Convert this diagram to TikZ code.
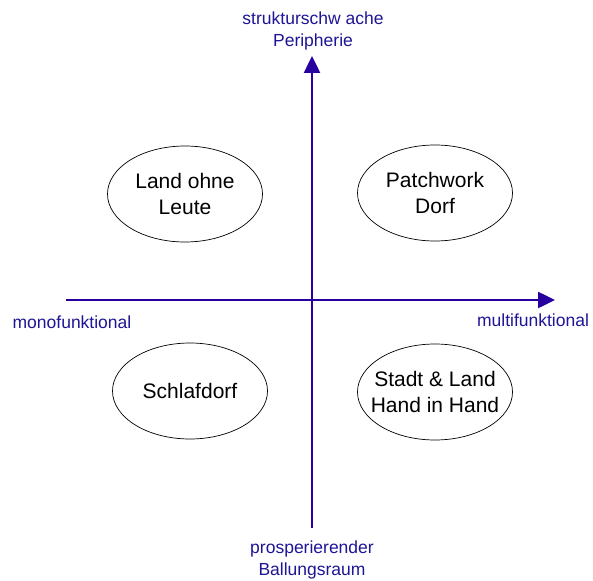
\documentclass[tikz,border=0pt]{standalone}
\usepackage{fontspec}
\setmainfont{Liberation Sans}
\usetikzlibrary{arrows.meta,shapes.geometric}
\definecolor{axisblue}{RGB}{40,0,160}
\definecolor{labelblue}{RGB}{30,20,150}

\begin{document}
\begin{tikzpicture}[
			x=1pt, y=-1pt
			,axis/.style={draw=axisblue, line width=2.5pt, -{Triangle[length=17pt,width=16pt]}}
			,field/.style={ellipse, draw, line width=0.7pt, minimum width=155pt, minimum height=96pt, inner xsep=-14pt, inner ysep=0pt, align=center, font=\fontsize{21pt}{26pt}\selectfont}
			,pole/.style={text=labelblue, align=center, inner sep=0pt, font=\fontsize{17.5pt}{22pt}\selectfont}
		]
			\useasboundingbox (0,0) rectangle (593,580);
			% axes
			\coordinate (xl) at (66,300);
			\coordinate (xr) at (555,300);
			\coordinate (yb) at (312,528);
			\coordinate (yt) at (312,56);
			\draw [axis] (xl) -- (xr);
			\draw [axis] (yb) -- (yt);
			% poles
			\node [pole] (top) at (313,31) {strukturschw ache\\Peripherie};
			\node [pole] (left) at (72,322) {monofunktional};
			\node [pole] (right) at (533,320) {multifunktional};
			\node [pole] (bottom) at (312,560) {prosperierender\\Ballungsraum};
			% quadrants
			\node [field] (LoL) at (185,194) {Land ohne\\Leute};
			\node [field] (PD) at (435,193) {Patchwork\\Dorf};
			\node [field] (SD) at (190,391) {Schlafdorf};
			\node [field] (SL) at (435,392) {Stadt \& Land\\Hand in Hand};
		\end{tikzpicture}
\end{document}
